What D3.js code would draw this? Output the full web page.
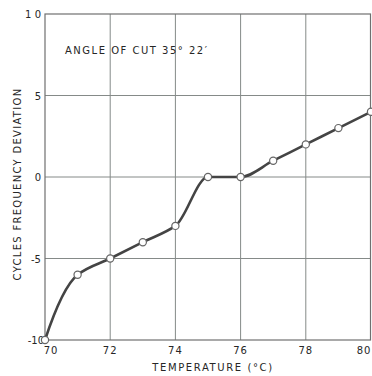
<!DOCTYPE html>
<html><head><meta charset="utf-8">
<script src="https://cdn.jsdelivr.net/npm/d3@7"></script>
<style>body{margin:0;background:#fff;}svg{display:block;}</style>
</head><body>
<svg id="c" width="372" height="376"></svg>
<script>
const temps = [70, 71, 72, 73, 74, 75, 76, 77, 78, 79, 80];
const deviation = [-10, -6, -5, -4, -3, 0, 0, 1, 2, 3, 4];
const xTicks = [70, 72, 74, 76, 78, 80];
const yTicks = [10, 5, 0, -5, -10];
const xTickLabels = ["70", "72", "74", "76", "78", "80"];
const yTickLabels = ["1 0", "5", "0", "-5", "-10"];
const xTitle = "TEMPERATURE (\u00B0C)";
const yTitle = "CYCLES FREQUENCY DEVIATION";
const note = "ANGLE OF CUT  35\u00B0 22\u2032";

const svg = d3.select("#c");
const x = d3.scaleLinear().domain([70, 80]).range([45, 371]);
const y = d3.scaleLinear().domain([-10, 10]).range([340, 14]);
const ink = "#262626", grid = "#858a88";
const font = "'DejaVu Sans', sans-serif";

// grid
svg.append("g").selectAll("line").data(xTicks.filter(d => d > 70 && d < 80)).join("line")
  .attr("x1", d => x(d)).attr("x2", d => x(d)).attr("y1", y(10)).attr("y2", y(-10))
  .attr("stroke", grid).attr("stroke-width", 1);
svg.append("g").selectAll("line").data(yTicks.filter(d => d > -10 && d < 10)).join("line")
  .attr("x1", x(70)).attr("x2", x(80)).attr("y1", d => y(d)).attr("y2", d => y(d))
  .attr("stroke", grid).attr("stroke-width", 1);
// frame
svg.append("rect").attr("x", x(70)).attr("y", y(10)).attr("width", x(80) - x(70) - 0.5).attr("height", y(-10) - y(10))
  .attr("fill", "none").attr("stroke", "#707070").attr("stroke-width", 1.2);

// tick labels
svg.append("g").selectAll("text").data(yTicks).join("text")
  .attr("x", (d, i) => i === 4 ? 44 : 41).attr("y", d => y(d) + 4)
  .attr("text-anchor", "end").attr("font-family", font).attr("font-size", 10).attr("fill", ink)
  .text((d, i) => yTickLabels[i]);
svg.append("g").selectAll("text").data(xTicks).join("text")
  .attr("x", (d, i) => i === 0 ? x(d) + 6 : (i === xTicks.length - 1 ? x(d) - 7 : x(d))).attr("y", 354)
  .attr("text-anchor", "middle").attr("font-family", font).attr("font-size", 10).attr("fill", ink)
  .attr("letter-spacing", 1)
  .text((d, i) => xTickLabels[i]);

// titles
svg.append("text").attr("x", 213).attr("y", 371).attr("text-anchor", "middle")
  .attr("font-family", font).attr("font-size", 10).attr("letter-spacing", 1.6).attr("fill", ink).text(xTitle);
svg.append("text").attr("transform", "translate(21,184) rotate(-90)").attr("text-anchor", "middle")
  .attr("font-family", font).attr("font-size", 10).attr("letter-spacing", 1.3).attr("fill", ink).text(yTitle);
svg.append("text").attr("x", 65).attr("y", 54)
  .attr("font-family", font).attr("font-size", 10).attr("letter-spacing", 1.5).attr("fill", ink).text(note);

// curve: cubic Hermite through the points, tangent leaning to the smaller adjacent secant (flat at turning points)
const pts = temps.map((t, i) => [t, deviation[i]]);
const n = pts.length;
const sec = d3.range(n - 1).map(i => (pts[i + 1][1] - pts[i][1]) / (pts[i + 1][0] - pts[i][0]));
const tan = pts.map((p, i) => {
  if (i === 0) return (3 * sec[0] - Math.min(sec[0], sec[1])) / 2 * 1.1;
  if (i === n - 1) return sec[n - 2];
  const a = sec[i - 1], b = sec[i];
  if (a * b <= 0) return 0;
  const lo = Math.min(Math.abs(a), Math.abs(b)), hi = Math.max(Math.abs(a), Math.abs(b));
  return Math.sign(a) * (lo + 0.2 * (hi - lo));
});
const path = d3.path();
path.moveTo(x(pts[0][0]), y(pts[0][1]));
for (let i = 0; i < n - 1; i++) {
  const [x0, y0] = pts[i], [x1, y1] = pts[i + 1], h = x1 - x0;
  path.bezierCurveTo(x(x0 + h / 3), y(y0 + tan[i] * h / 3), x(x1 - h / 3), y(y1 - tan[i + 1] * h / 3), x(x1), y(y1));
}
svg.append("path").attr("d", path.toString())
  .attr("fill", "none").attr("stroke", "#444").attr("stroke-width", 2.6).attr("stroke-linecap", "round");
svg.append("g").selectAll("circle").data(pts).join("circle")
  .attr("cx", d => x(d[0])).attr("cy", d => y(d[1])).attr("r", 3.6)
  .attr("fill", "#fff").attr("stroke", "#666").attr("stroke-width", 1.2);
</script>
</body></html>
